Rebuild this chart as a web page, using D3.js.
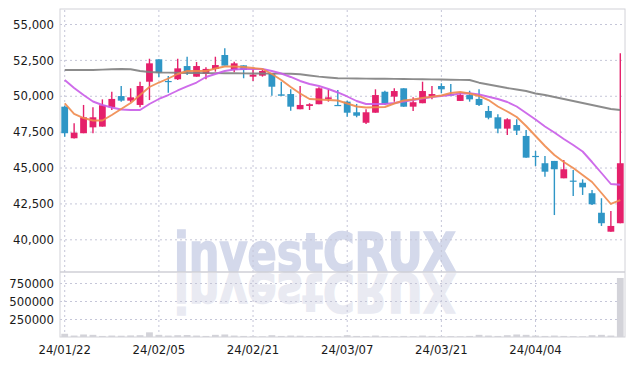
<!DOCTYPE html>
<html><head><meta charset="utf-8">
<script src="https://cdn.jsdelivr.net/npm/d3@7"></script>
<style>body{margin:0;background:#fff;overflow:hidden}</style>
</head><body><svg id="c" width="634" height="366"></svg>
<script>
const dates = ["24/01/22","24/01/23","24/01/24","24/01/25","24/01/26","24/01/29","24/01/30","24/01/31","24/02/01","24/02/02",
"24/02/05","24/02/06","24/02/07","24/02/08","24/02/13","24/02/14","24/02/15","24/02/16","24/02/19","24/02/20",
"24/02/21","24/02/22","24/02/23","24/02/26","24/02/27","24/02/28","24/02/29","24/03/04","24/03/05","24/03/06",
"24/03/07","24/03/08","24/03/11","24/03/12","24/03/13","24/03/14","24/03/15","24/03/18","24/03/19","24/03/20",
"24/03/21","24/03/22","24/03/25","24/03/26","24/03/27","24/03/28","24/03/29","24/04/01","24/04/02","24/04/03",
"24/04/04","24/04/05","24/04/08","24/04/09","24/04/11","24/04/12","24/04/15","24/04/16","24/04/17","24/04/18"];
const open  = [49240,47040,47390,47800,47850,49200,49980,49660,49360,50980,52540,51030,51150,52070,51330,51520,51865,52840,51800,52120,
51330,51400,51570,50100,50120,49060,49290,49410,49780,49360,49590,48850,48120,48820,50280,49940,50520,49240,49480,49940,
50680,50100,49640,50050,49780,48940,48500,47710,47960,47200,45810,45300,45460,44250,44090,43940,43210,41850,40530,41120];
const high  = [49300,48080,49360,49200,49750,50280,50680,50520,50980,52580,52540,51380,52580,52720,52350,51980,52720,53310,52370,52120,
51840,51840,51570,50980,50450,50680,49480,50590,50450,50400,49650,49430,49060,50450,50350,50520,50520,49890,50980,50680,
50870,50820,50210,50350,50450,49290,48710,48430,48360,47620,46150,45800,45460,45530,44830,44180,43440,42860,41970,52960];
const low   = [47150,47020,47390,47390,47850,49010,49590,49560,49200,49700,51290,50210,51100,51450,51330,51150,51680,52100,51640,51220,
51030,51330,50000,50000,48960,49060,49010,49410,49590,49330,48540,48500,48030,48820,49360,49590,49240,48940,49480,49750,
50170,50050,49640,49590,49290,48360,47390,47270,47270,45690,45110,44360,41690,44250,43020,43090,42390,40930,40530,41120];
const close = [47390,47430,48500,48500,49340,49780,49660,49890,50680,52260,51610,51020,51910,51680,52070,51870,52140,52100,52260,51800,
51470,51730,50630,50000,49240,49360,49410,50520,49890,49340,48820,48610,48850,50050,49430,50330,49240,49550,50330,50120,
50450,50080,50050,49750,49360,48470,47710,48360,47570,45690,45800,44710,44880,44880,44080,43620,42440,41120,40930,45300];
const volume = [45000,20000,35000,30000,15000,20000,18000,22000,25000,65000,30000,20000,25000,28000,20000,15000,30000,35000,20000,15000,
12000,10000,25000,15000,20000,18000,12000,15000,12000,10000,25000,15000,12000,20000,12000,10000,15000,12000,20000,15000,
10000,12000,10000,15000,30000,20000,15000,25000,35000,30000,20000,15000,20000,15000,12000,10000,25000,30000,20000,820000];
const ma5 = [49475,48730,48451,48277,48277,48660,49078,49496,50053,50611,50924,51203,51517,51726,51726,51726,51900,52039,52039,52004,
51935,51865,51517,51099,50611,50158,49775,49740,49705,49670,49461,49252,49183,49197,49217,49461,49670,49740,49844,49935,
50019,50193,50262,50158,49984,49705,49252,48904,48521,47894,47197,46500,45873,45385,44968,44480,43992,43226,42460,42738];
const ma20 = [51100,50541,50053,49600,49357,49183,49043,49008,49008,49426,49775,50053,50367,50646,50924,51308,51517,51726,51830,51865,
51865,51865,51726,51551,51308,51029,50820,50680,50472,50228,49950,49636,49426,49426,49426,49496,49600,49705,49810,49914,
49984,50053,50158,50172,50088,49935,49775,49566,49252,48800,48347,47859,47441,46988,46570,46117,45385,44619,43853,43804];
const ma60 = [51800,51800,51790,51800,51820,51850,51860,51850,51725,51655,51620,51610,51600,51590,51585,51580,51575,51570,51565,51560,
51555,51550,51545,51540,51530,51500,51412,51330,51270,51217,51210,51200,51195,51190,51185,51180,51170,51160,51150,51145,
51130,51120,51110,51100,50910,50785,50660,50540,50435,50332,50160,50053,49914,49775,49636,49497,49357,49218,49078,49008];
const priceTicks = [40000,42500,45000,47500,50000,52500,55000];
const volumeTicks = [250000,500000,750000];
const dateTicks = ["24/01/22","24/02/05","24/02/21","24/03/07","24/03/21","24/04/04"];

const UP = "#e5206b", DOWN = "#2f96c6";
const svg = d3.select("#c");
const L = 60, R = 625, T = 9, MID = 272, B = 337;
const font = "'DejaVu Sans Condensed','DejaVu Sans',sans-serif";

const x = d3.scaleBand().domain(dates).range([L, R]);
const yP = d3.scaleLinear().domain([37722, 56045]).range([MID, T]);
const yV = d3.scaleLinear().domain([0, 902778]).range([B, MID]);
const cx = d => x(d) + x.bandwidth() / 2;

// watermark (with reflection)
const wm = (fill, transform, y) => svg.append("text").attr("x", 174).attr("y", y).attr("textLength", 282)
  .attr("lengthAdjust", "spacingAndGlyphs").attr("transform", transform)
  .attr("font-family", "'DejaVu Sans Condensed','Liberation Sans',Arial,sans-serif").attr("font-weight", "bold")
  .attr("font-size", 54).attr("fill", fill).attr("stroke", fill).attr("stroke-width", 1.5)
  .text("investCRUX");
wm("#d4d9eb", null, 271);
wm("#e9eaf2", "translate(0,545) scale(1,-1)", 271);

function styleGrid(g) {
  g.select(".domain").remove();
  g.selectAll(".tick line").attr("stroke", "#c5c6d8").attr("stroke-dasharray", "2,3");
  g.selectAll(".tick text").attr("font-family", font).attr("font-size", 13).attr("fill", "#1a1a1a");
}
svg.append("g").attr("transform", `translate(${L},0)`)
  .call(d3.axisLeft(yP).tickValues(priceTicks).tickSize(-(R - L)).tickPadding(6).tickFormat(d3.format(",")))
  .call(styleGrid);
svg.append("g").attr("transform", `translate(${L},0)`)
  .call(d3.axisLeft(yV).tickValues(volumeTicks).tickSize(-(R - L)).tickPadding(6).tickFormat(d3.format("d")))
  .call(styleGrid);
svg.append("g").attr("transform", `translate(0,${B})`)
  .call(d3.axisBottom(x).tickValues(dateTicks).tickSize(-(B - T)).tickPadding(8))
  .call(styleGrid);

// frame
svg.append("rect").attr("x", L).attr("y", T).attr("width", R - L).attr("height", B - T)
  .attr("fill", "none").attr("stroke", "#d2d2d8");
svg.append("line").attr("x1", L).attr("x2", R).attr("y1", MID).attr("y2", MID).attr("stroke", "#cfcfd6").attr("stroke-width", 1.5);

// volume
const bw = x.bandwidth() * 0.72;
svg.append("g").selectAll("rect").data(dates).join("rect")
  .attr("x", d => cx(d) - bw / 2).attr("width", bw)
  .attr("y", (d, i) => yV(volume[i])).attr("height", (d, i) => B - yV(volume[i]))
  .attr("fill", "#d3d3d9");

// candles
const cg = svg.append("g");
dates.forEach((d, i) => {
  const c = close[i] > open[i] ? UP : DOWN;
  cg.append("line").attr("x1", cx(d)).attr("x2", cx(d)).attr("y1", yP(high[i])).attr("y2", yP(low[i]))
    .attr("stroke", c).attr("stroke-width", 1.4);
  const top = yP(Math.max(open[i], close[i])), bot = yP(Math.min(open[i], close[i]));
  cg.append("rect").attr("x", cx(d) - bw / 2).attr("width", bw)
    .attr("y", top).attr("height", Math.max(1.2, bot - top)).attr("fill", c);
});

// moving averages
const line = arr => d3.line().x((d, i) => cx(dates[i])).y(d => yP(d))(arr);
[[ma60, "#7f7f7f"], [ma20, "#c95ce8"], [ma5, "#ef8a4c"]].forEach(([arr, col]) => {
  svg.append("path").attr("d", line(arr)).attr("fill", "none").attr("stroke", col)
    .attr("stroke-width", 1.9).attr("stroke-opacity", 0.9).attr("stroke-linejoin", "round");
});
</script></body></html>
